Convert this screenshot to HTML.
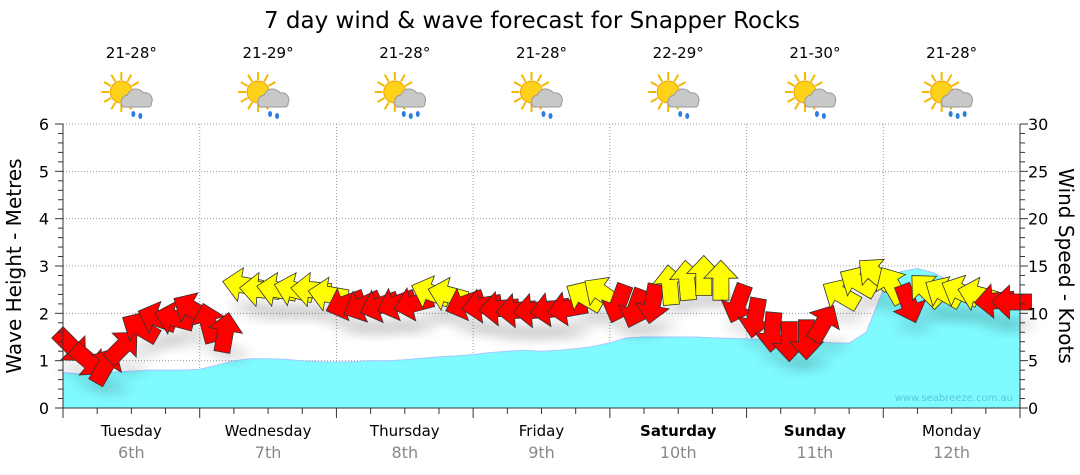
<!DOCTYPE html>
<html><head><meta charset="utf-8"><style>
body{margin:0;background:#fff;}
svg{display:block;font-family:"DejaVu Sans","Liberation Sans",sans-serif;}
</style></head><body>
<svg id="c" width="1080" height="475" viewBox="0 0 1080 475">
<defs>
<filter id="sh" x="-50%" y="-50%" width="200%" height="200%"><feGaussianBlur stdDeviation="6"/></filter>
</defs>
<text x="532" y="28" font-size="23" text-anchor="middle" fill="#000">7 day wind &amp; wave forecast for Snapper Rocks</text>
<g id="grid"></g>
<g id="waves"></g>
<g id="shadows"></g>
<g id="arrows"></g>
<g id="axes"></g>
<g id="icons"></g>
<text x="1013" y="401" font-size="10" fill="#5cc8d8" text-anchor="end">www.seabreeze.com.au</text>
<text transform="translate(21,266) rotate(-90)" font-size="20" text-anchor="middle">Wave Height - Metres</text>
<text transform="translate(1059,266) rotate(90)" font-size="20" text-anchor="middle">Wind Speed - Knots</text>
</svg>
<script>
const days=["Tuesday","Wednesday","Thursday","Friday","Saturday","Sunday","Monday"];
const dates=["6th","7th","8th","9th","10th","11th","12th"];
const bold=[0,0,0,0,1,1,0];
const temps=["21-28°","21-29°","21-28°","21-28°","22-29°","21-30°","21-28°"];
const rain=[1,1,2,1,1,1,2];
const waveTicks=[0,1,2,3,4,5,6];
const windTicks=[0,5,10,15,20,25,30];
const wave=[0.75,0.72,0.74,0.76,0.78,0.8,0.8,0.8,
0.82,0.9,1.0,1.04,1.04,1.03,1.0,0.98,
0.97,0.98,1.0,1.0,1.02,1.05,1.08,1.1,
1.13,1.17,1.2,1.22,1.2,1.22,1.25,1.3,
1.38,1.48,1.5,1.5,1.5,1.5,1.48,1.47,
1.46,1.45,1.43,1.42,1.4,1.38,1.37,1.6,
2.5,2.88,2.95,2.85,2.65,2.5,2.45,2.35,2.2];
const wind=[6.5,5,4.5,6.5,8.5,9.5,9.5,10.5,
9,8,13,12.5,12.5,12.5,12.5,12,
11,10.8,10.8,11,11,12.2,12,11,
10.8,10.5,10.3,10.3,10.4,10.5,11.8,12.2,
11,10.5,11,13,13.5,14,13.5,11,
9.5,8,7,7.2,9,12,13.3,14.2,
13,11,12.5,12.2,12.3,12,11.3,11.2];
const dir=[45,40,-60,-45,-150,-160,-165,-150,
-105,-80,-170,-175,-170,-165,-175,-170,
160,155,160,160,165,-160,-165,160,
170,175,175,175,170,170,-150,-145,
110,110,100,-95,-95,-90,-90,110,
100,95,90,90,-60,-150,-150,-140,
-120,70,-135,-150,-155,-165,175,180];
const col=[0,0,0,0,0,0,0,0,
0,0,1,1,1,1,1,1,
0,0,0,0,0,1,1,0,
0,0,0,0,0,0,1,1,
0,0,0,1,1,1,1,0,
0,0,0,0,0,1,1,1,
1,0,1,1,1,1,0,0];
const X0=63,X1=1020,Y0=408,Y1=124;
const dayW=(X1-X0)/7;
const xAt=i=>X0+i*dayW/8;
const yW=v=>Y0-(v/6)*(Y0-Y1);
const yK=v=>Y0-(v/30)*(Y0-Y1);
const NS="http://www.w3.org/2000/svg";
function mk(tag,attrs,parent){const e=document.createElementNS(NS,tag);for(const k in attrs)e.setAttribute(k,attrs[k]);parent.appendChild(e);return e;}
const grid=document.getElementById('grid'),axes=document.getElementById('axes');
waveTicks.forEach((t,i)=>{
 if(t>0){const l=mk('line',{x1:X0,x2:X1,y1:yW(t),y2:yW(t),stroke:'#999','stroke-dasharray':'1,2'},grid);
 
 }
 const tx=mk('text',{x:49,y:yW(t)+6,'font-size':16,'text-anchor':'end'},axes);tx.textContent=t;
 
 
});
windTicks.forEach(t=>{
 const tx=mk('text',{x:1028,y:yK(t)+6,'font-size':16},axes);tx.textContent=t;
 
 
});
for(let v=0;v<=30;v++){const y=yK(v);const big=v%5==0;
 mk('line',{x1:X1,x2:X1+(big?8:5),y1:y,y2:y,stroke:'#333'},axes);
 mk('line',{x1:X0,x2:X0-(big?8:5),y1:y,y2:y,stroke:'#333'},axes);}
for(let d=1;d<7;d++){const x=X0+d*dayW;const l=mk('line',{x1:x,x2:x,y1:Y1,y2:Y0,stroke:'#999','stroke-dasharray':'1,2'},grid);
 
 }
for(let k=0;k<=28;k++){const x=X0+k*dayW/4;mk('line',{x1:x,x2:x,y1:Y0,y2:Y0+(k%4==0?10:6),stroke:'#333'},axes);}
mk('line',{x1:X0,x2:X0,y1:Y1,y2:Y0,stroke:'#333'},axes);
mk('line',{x1:X1,x2:X1,y1:Y1,y2:Y0,stroke:'#333'},axes);
mk('line',{x1:X0,x2:X1,y1:Y0,y2:Y0,stroke:'#333'},axes);
let d='M'+X0+','+Y0;wave.forEach((v,i)=>{d+=' L'+xAt(i).toFixed(1)+','+yW(v).toFixed(1);});d+=' L'+X1+','+Y0+' Z';
const wa=mk('path',{d:d,fill:'#7ffaff',stroke:'#a8c8ff','stroke-width':1},document.getElementById('waves'));


const AR="-20,-8 2,-8 2,-17 20,0 2,17 2,8 -20,8";
const sh=document.getElementById('shadows'),ar=document.getElementById('arrows');
wind.forEach((v,i)=>{
 const x=xAt(i)+dayW/16,y=yK(v);
 mk('ellipse',{cx:x+6,cy:y+22,rx:18,ry:7,fill:'#000',opacity:0.12,filter:'url(#sh)'},sh);
});
wind.forEach((v,i)=>{
 const x=xAt(i)+dayW/16,y=yK(v);
 const p=mk('polygon',{points:AR,transform:`translate(${x.toFixed(1)},${y.toFixed(1)}) rotate(${dir[i]})`,fill:col[i]?'#ffff00':'#ff0000',stroke:'#333','stroke-width':0.8},ar);
 
 
});
const ic=document.getElementById('icons');
days.forEach((n,i)=>{
 const cx=X0+(i+0.5)*dayW;
 const t=mk('text',{x:cx,y:436,'font-size':15,'text-anchor':'middle','font-weight':bold[i]?'bold':'normal'},axes);t.textContent=n;
 
 
 const t2=mk('text',{x:cx,y:458,'font-size':16,'text-anchor':'middle',fill:'#888'},axes);t2.textContent=dates[i];
 
 
 const t3=mk('text',{x:cx,y:58,'font-size':15,'text-anchor':'middle'},ic);t3.textContent=temps[i];
 
 
 const g=mk('g',{transform:`translate(${cx-2},97)`},ic);
 
 
 for(let a=0;a<360;a+=30){const r=a*Math.PI/180;mk('line',{x1:-8+Math.cos(r)*12,y1:-5+Math.sin(r)*12,x2:-8+Math.cos(r)*20,y2:-5+Math.sin(r)*20,stroke:'#f5b800','stroke-width':2},g);}
 mk('circle',{cx:-8,cy:-5,r:11,fill:'#ffd21a',stroke:'#f0a000'},g);
 mk('path',{d:'M-6,10 a7,7 0 0 1 4,-12 a9,9 0 0 1 16,-2 a7,7 0 0 1 8,10 a4,4 0 0 1 -2,4 z',fill:'#c8c8c8',stroke:'#999'},g);
 for(let k=0;k<rain[i]+1;k++){mk('ellipse',{cx:4+k*7-(rain[i]>1?3:0),cy:17+(k%2)*2,rx:2,ry:3,fill:'#2b7de0'},g);}
});
</script>
</body></html>
